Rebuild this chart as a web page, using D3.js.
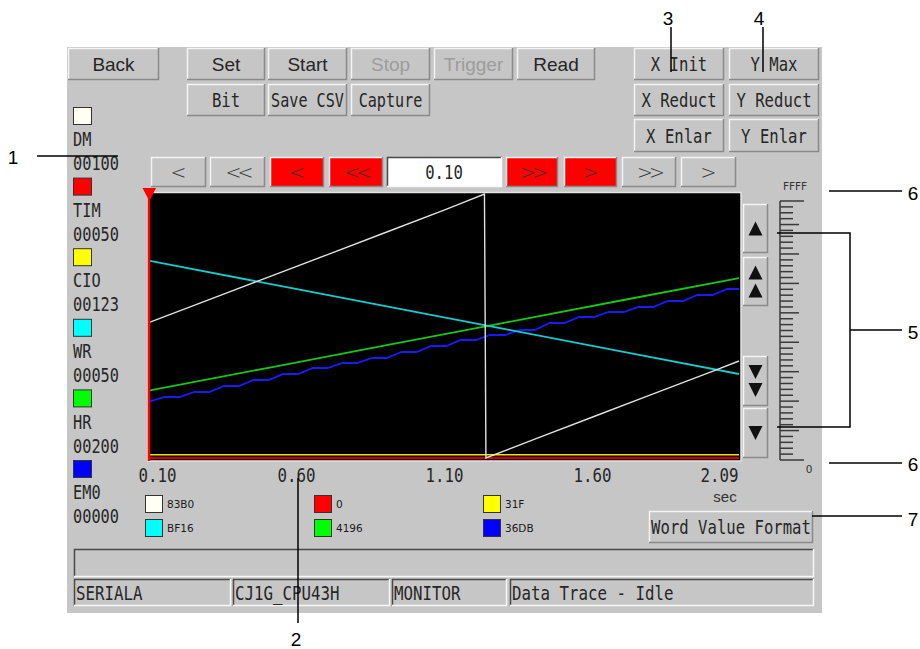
<!DOCTYPE html>
<html lang="en">
<head>
  <meta charset="UTF-8">
  <title>Data Trace</title>
  <script src="https://d3js.org/d3.v7.min.js"></script>
  <style>
    body { margin: 0; background: #fff; }
    svg { display: block; }
  </style>
</head>
<body>
  <div id="chart"></div>
  <script>
    // channel table (left legend)
    const channelNames = ["DM", "TIM", "CIO", "WR", "HR", "EM0"];
    const channelAddr = ["00100", "00050", "00123", "00050", "00200", "00000"];
    const channelFill = ["#fffff4", "#ff0000", "#ffff00", "#00ffff", "#00ff00", "#0000ff"];
    const lineColor = ["#e0e0e0", "#c00000", "#e8e800", "#18cccc", "#18c818", "#1a1aff"];
    // values at the cursor (hex)
    const cursorValues = ["83B0", "0", "31F", "BF16", "4196", "36DB"];
    const timeTicks = [0.10, 0.60, 1.10, 1.60, 2.09];

    // traces: [sec, raw word value]
    const dmTrace = [[0.10, 33712], [0.30, 39300], [0.50, 44900], [0.70, 50500], [0.90, 56100],
      [1.10, 61700], [1.23, 65535], [1.235, 0], [1.40, 4700], [1.60, 10300], [1.80, 15900],
      [2.00, 21500], [2.09, 24080]];
    const timTrace = [[0.10, 0], [2.09, 0]];
    const cioTrace = [[0.10, 799], [2.09, 799]];
    const wrTrace = [[0.10, 48918], [0.50, 43280], [0.90, 37630], [1.30, 31990], [1.70, 26350], [2.09, 20850]];
    const hrTrace = [[0.10, 16790], [0.50, 22400], [0.90, 28000], [1.30, 33610], [1.70, 39220], [2.09, 44680]];
    const em0Trace = [[0.10, 14043], [0.15, 15140], [0.20, 15140], [0.25, 16380], [0.30, 16380],
      [0.35, 17870], [0.40, 17870], [0.45, 19360], [0.50, 19360], [0.55, 20850], [0.60, 20850],
      [0.65, 22340], [0.70, 22340], [0.75, 23580], [0.80, 23580], [0.85, 24820], [0.90, 24820],
      [0.95, 26310], [1.00, 26310], [1.05, 27800], [1.10, 27800], [1.15, 29290], [1.20, 29290],
      [1.25, 30530], [1.30, 30530], [1.35, 31770], [1.40, 31770], [1.45, 33510], [1.50, 33510],
      [1.55, 35000], [1.60, 35000], [1.65, 36240], [1.70, 36240], [1.75, 37480], [1.80, 37480],
      [1.85, 38970], [1.90, 38970], [1.95, 40460], [2.00, 40460], [2.05, 41950], [2.09, 41950]];
    const traces = [dmTrace, timTrace, cioTrace, wrTrace, hrTrace, em0Trace];
    const drawOrder = [1, 2, 4, 5, 3, 0];

    const PANEL = "#c6c6c6";
    const MONO = "'DejaVu Sans Mono', monospace";
    const SANS = "'Liberation Sans', Arial, sans-serif";

    const svg = d3.select("#chart").append("svg")
      .attr("width", 920)
      .attr("height", 649);

    // narrow terminal-style label, squeezed to a fixed cell width
    function uiText(g, x, y, str, o = {}) {
      return g.append("text")
        .attr("x", x)
        .attr("y", y)
        .attr("dy", "0.36em")
        .attr("font-family", MONO)
        .attr("font-size", 20)
        .attr("text-anchor", o.anchor || "middle")
        .attr("fill", o.fill || "#262626")
        .attr("textLength", str.length * (o.cw || 9.4))
        .attr("lengthAdjust", "spacingAndGlyphs")
        .text(str);
    }

    function bevel(g, x, y, w, h, fill, raised) {
      const hi = raised ? "#f4f4f4" : "#4a4a4a";
      const lo = raised ? "#8a8a8a" : "#f8f8f8";
      g.append("rect").attr("x", x).attr("y", y).attr("width", w).attr("height", h).attr("fill", fill);
      g.append("path").attr("d", `M${x + 0.5},${y + h}V${y + 0.5}H${x + w}`)
        .attr("fill", "none").attr("stroke", hi).attr("stroke-width", 1.5);
      g.append("path").attr("d", `M${x + w - 0.5},${y}V${y + h - 0.5}H${x}`)
        .attr("fill", "none").attr("stroke", lo).attr("stroke-width", 1.5);
    }

    // panel
    svg.append("rect").attr("x", 67).attr("y", 47).attr("width", 755).attr("height", 566).attr("fill", PANEL);

    const ui = svg.append("g");

    // top buttons
    const buttons = [
      {t: "Back", x: 68, y: 48, w: 91, h: 32, sans: true},
      {t: "Set", x: 187, y: 48, w: 78, h: 32, sans: true},
      {t: "Start", x: 268, y: 48, w: 79, h: 32, sans: true},
      {t: "Stop", x: 351, y: 48, w: 79, h: 32, sans: true, off: true},
      {t: "Trigger", x: 434, y: 48, w: 79, h: 32, sans: true, off: true},
      {t: "Read", x: 517, y: 48, w: 78, h: 32, sans: true},
      {t: "X Init", x: 634, y: 48, w: 90, h: 32},
      {t: "Y Max", x: 729, y: 48, w: 90, h: 32},
      {t: "Bit", x: 187, y: 84, w: 78, h: 32},
      {t: "Save CSV", x: 268, y: 84, w: 79, h: 32, cw: 9.1},
      {t: "Capture", x: 351, y: 84, w: 79, h: 32, cw: 9.1},
      {t: "X Reduct", x: 634, y: 84, w: 90, h: 32},
      {t: "Y Reduct", x: 729, y: 84, w: 90, h: 32},
      {t: "X Enlar", x: 634, y: 119, w: 90, h: 33},
      {t: "Y Enlar", x: 729, y: 119, w: 90, h: 33},
      {t: "Word Value Format", x: 649, y: 511, w: 164, h: 32}
    ];
    buttons.forEach(b => {
      bevel(ui, b.x, b.y, b.w, b.h, PANEL, true);
      if (b.sans) {
        ui.append("text")
          .attr("x", b.x + b.w / 2)
          .attr("y", b.y + b.h / 2)
          .attr("dy", "0.36em")
          .attr("text-anchor", "middle")
          .attr("font-family", SANS)
          .attr("font-size", 19)
          .attr("fill", b.off ? "#9c9c9c" : "#262626")
          .text(b.t);
      } else {
        uiText(ui, b.x + b.w / 2, b.y + b.h / 2, b.t, {cw: b.cw});
      }
    });

    // scroll row
    const nav = [
      {t: "<", x: 151, w: 55}, {t: "<<", x: 210, w: 55},
      {t: "<", x: 270, w: 54, red: true}, {t: "<<", x: 329, w: 54, red: true},
      {t: ">>", x: 506, w: 52, red: true}, {t: ">", x: 564, w: 53, red: true},
      {t: ">>", x: 622, w: 54}, {t: ">", x: 681, w: 55}
    ];
    nav.forEach(b => {
      bevel(ui, b.x, 157, b.w, 30, b.red ? "#ff0000" : PANEL, true);
      ui.append("text")
        .attr("x", b.x + b.w / 2)
        .attr("y", 172)
        .attr("dy", "0.35em")
        .attr("text-anchor", "middle")
        .attr("font-family", "'DejaVu Sans', sans-serif")
        .attr("font-weight", 200)
        .attr("font-size", 19)
        .attr("letter-spacing", b.t.length > 1 ? -4 : 0)
        .attr("fill", "#333")
        .text(b.t);
    });
    bevel(ui, 387, 157, 115, 30, "#ffffff", false);
    uiText(ui, 444, 172, "0.10");

    // left legend
    channelNames.forEach((n, i) => {
      const top = 107 + i * 70.6;
      ui.append("rect").attr("x", 73.5).attr("y", top + 0.5).attr("width", 18).attr("height", 17)
        .attr("fill", channelFill[i]).attr("stroke", "#333").attr("stroke-width", 1);
      uiText(ui, 73, top + 32, n, {anchor: "start", cw: 9.2});
      uiText(ui, 73, top + 56, channelAddr[i], {anchor: "start", cw: 9.2});
    });

    // plot
    const x = d3.scaleLinear().domain([0.10, 2.09]).range([150, 739]);
    const y = d3.scaleLinear().domain([0, 65535]).range([458, 194]);

    svg.append("rect").attr("x", 148).attr("y", 192.5).attr("width", 593).attr("height", 268.5)
      .attr("fill", "#000").attr("stroke", "#e4e4e4").attr("stroke-width", 1.5);

    const line = d3.line().x(d => x(d[0])).y(d => y(d[1]));
    svg.append("g").selectAll("path")
      .data(drawOrder)
      .join("path")
      .attr("d", i => line(traces[i]))
      .attr("fill", "none")
      .attr("stroke", i => lineColor[i])
      .attr("stroke-width", i => (i === 1 ? 2.5 : i === 0 || i === 2 ? 1.4 : 1.8));

    // cursor
    svg.append("line").attr("x1", 149).attr("x2", 149).attr("y1", 190).attr("y2", 461)
      .attr("stroke", "#ff0000").attr("stroke-width", 2.5);
    svg.append("path").attr("d", "M142.5,188H156L149.3,201Z").attr("fill", "#ff0000");

    // time axis
    const xAxis = svg.append("g")
      .attr("transform", "translate(0,468)")
      .call(d3.axisBottom(x).tickValues(timeTicks).tickSize(0).tickFormat(d3.format(".2f")));
    xAxis.select(".domain").remove();
    xAxis.selectAll("text")
      .attr("y", 7)
      .attr("dy", "0.36em")
      .attr("dx", (d, i) => (i === 0 ? 7 : i === timeTicks.length - 1 ? -20 : -2))
      .attr("font-family", MONO)
      .attr("font-size", 20)
      .attr("fill", "#262626")
      .attr("textLength", 38)
      .attr("lengthAdjust", "spacingAndGlyphs");
    svg.append("text").attr("x", 725).attr("y", 497).attr("dy", "0.35em")
      .attr("text-anchor", "middle")
      .attr("font-family", SANS)
      .attr("font-size", 15).attr("fill", "#333").text("sec");

    // bottom legend (cursor values)
    const colX = [145, 314, 483];
    cursorValues.forEach((v, k) => {
      const lx = colX[k % 3];
      const ly = k < 3 ? 495 : 519;
      ui.append("rect").attr("x", lx + 0.5).attr("y", ly + 0.5).attr("width", 17).attr("height", 17)
        .attr("fill", channelFill[k]).attr("stroke", "#333");
      ui.append("text").attr("x", lx + 22).attr("y", ly + 9).attr("dy", "0.35em")
        .attr("font-family", "'DejaVu Sans', sans-serif")
        .attr("font-size", 10.5).attr("fill", "#1a1a1a")
        .text(v);
    });

    // zoom buttons beside plot
    const arrows = [
      {y: 204, h: 49, dirs: [-1]},
      {y: 257, h: 49, dirs: [-1, -1]},
      {y: 356, h: 50, dirs: [1, 1]},
      {y: 408, h: 50, dirs: [1]}
    ];
    arrows.forEach(a => {
      bevel(ui, 743, a.y, 25, a.h, PANEL, true);
      a.dirs.forEach((d, k) => {
        const cy = a.y + a.h / 2 + (a.dirs.length === 2 ? (k === 0 ? -9 : 9) : 0);
        const tip = cy + d * 7, base = cy - d * 7;
        ui.append("path").attr("d", `M748.5,${base}H762.5L755.5,${tip}Z`).attr("fill", "#111");
      });
    });

    // ruler
    const ruler = d3.scaleLinear().domain([0, 44]).range([460, 201]);
    const rg = svg.append("g").attr("stroke", "#3a3a3a").attr("stroke-width", 1.5);
    rg.append("line").attr("x1", 780).attr("x2", 780).attr("y1", 201).attr("y2", 460);
    rg.selectAll("line.t").data(d3.range(0, 45)).join("line")
      .attr("class", "t")
      .attr("x1", 780)
      .attr("x2", d => 780 + (d === 0 || d === 44 ? 24 : d % 5 === 0 ? 19 : 13))
      .attr("y1", d => ruler(d)).attr("y2", d => ruler(d));
    svg.append("text").attr("x", 795).attr("y", 186).attr("dy", "0.35em").attr("text-anchor", "middle")
      .attr("font-family", "'DejaVu Sans', sans-serif").attr("font-size", 10.5).attr("fill", "#333").text("FFFF");
    svg.append("text").attr("x", 809).attr("y", 469).attr("dy", "0.35em").attr("text-anchor", "middle")
      .attr("font-family", "'DejaVu Sans', sans-serif").attr("font-size", 10.5).attr("fill", "#333").text("0");

    // status area
    bevel(ui, 74, 549, 740, 28, PANEL, false);
    const status = [
      {t: "SERIALA", x: 74, w: 157}, {t: "CJ1G_CPU43H", x: 233, w: 157},
      {t: "MONITOR", x: 392, w: 115}, {t: "Data Trace - Idle", x: 510, w: 304}
    ];
    status.forEach(s => {
      bevel(ui, s.x, 579, s.w, 27, PANEL, false);
      uiText(ui, s.x + 2, 593, s.t, {anchor: "start", cw: 9.5});
    });

    // callouts
    const callG = svg.append("g").attr("stroke", "#000").attr("stroke-width", 1.5);
    const callPaths = [
      "M37,156H118", "M298,478V623", "M671,27V72", "M763,27V72",
      "M777,233H850V427H777M850,330H902", "M829,191H902", "M829,463H902", "M812,516H902"
    ];
    callPaths.forEach(p => callG.append("path").attr("d", p).attr("fill", "none"));
    const callouts = [
      {n: "1", x: 13, y: 157}, {n: "2", x: 296, y: 639}, {n: "3", x: 668, y: 18},
      {n: "4", x: 759, y: 18}, {n: "5", x: 913, y: 332}, {n: "6", x: 913, y: 193},
      {n: "6", x: 913, y: 464}, {n: "7", x: 913, y: 519}
    ];
    svg.append("g").selectAll("text").data(callouts).join("text")
      .attr("x", d => d.x).attr("y", d => d.y).attr("dy", "0.36em")
      .attr("text-anchor", "middle")
      .attr("font-family", SANS)
      .attr("font-size", 19).attr("fill", "#000")
      .attr("font-family", SANS)
      .text(d => d.n);
  </script>
</body>
</html>
